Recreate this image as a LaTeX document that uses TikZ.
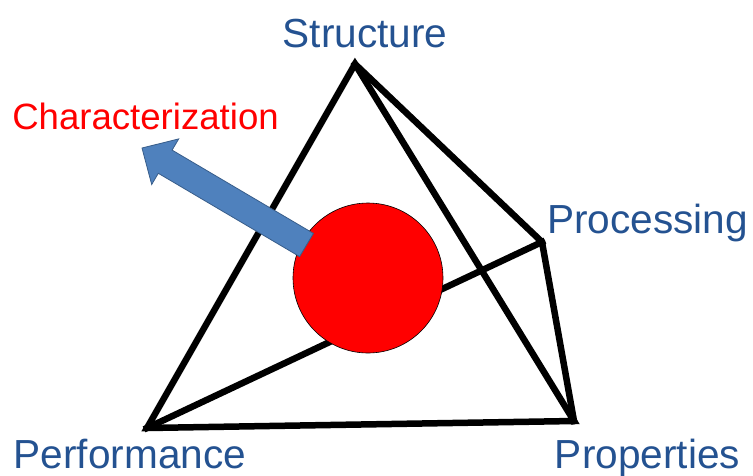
\documentclass[tikz,border=0pt]{standalone}
\usepackage{fontspec}
\setmainfont{Liberation Sans}
\definecolor{labelblue}{RGB}{36,82,145}
\definecolor{arrowfill}{RGB}{79,129,189}
\definecolor{arrowedge}{RGB}{56,93,138}
\begin{document}
\begin{tikzpicture}[x=1pt,y=-1pt,
  edge/.style={line width=6.5pt,line join=miter,line cap=rect},
  cornerlabel/.style={text=labelblue,font=\fontsize{40.6}{40.6}\selectfont,anchor=base,inner sep=0pt},
  charlabel/.style={text=red,font=\fontsize{36.6}{36.6}\selectfont,anchor=base,inner sep=0pt}]
  \useasboundingbox (0,0) rectangle (753,475);

  % tetrahedron corners
  \coordinate (S) at (355,64);
  \coordinate (Pc) at (542,242);
  \coordinate (Pp) at (574,421);
  \coordinate (Pf) at (147,428);

  % edges
  \draw[edge] (Pf) -- (S) -- (Pp) -- cycle;
  \draw[edge] (S) -- (Pc) -- (Pp);
  \draw[edge] (Pf) -- (Pc);

  % central sphere
  \node[circle,draw=black,line width=0.6pt,fill=red,minimum size=150pt,inner sep=0pt] (ball) at (368,278) {};

  % arrow leaving the sphere
  \draw[arrowedge,fill=arrowfill,line width=0.8pt,line join=miter]
    (313.4,233.4) -- (172.1,150.1) -- (178.7,138.9) -- (142,148)
    -- (151.7,184.5) -- (158.3,173.3) -- (299.6,256.6) -- cycle;

  % labels
  \node[cornerlabel] (lS) at (365,47) {Structure};
  \node[charlabel] (lC) at (145.5,129) {Characterization};
  \node[cornerlabel] (lPc) at (647.5,233) {Processing};
  \node[cornerlabel] (lPf) at (130,468) {Performance};
  \node[cornerlabel] (lPp) at (647.5,468) {Properties};
\end{tikzpicture}
\end{document}
